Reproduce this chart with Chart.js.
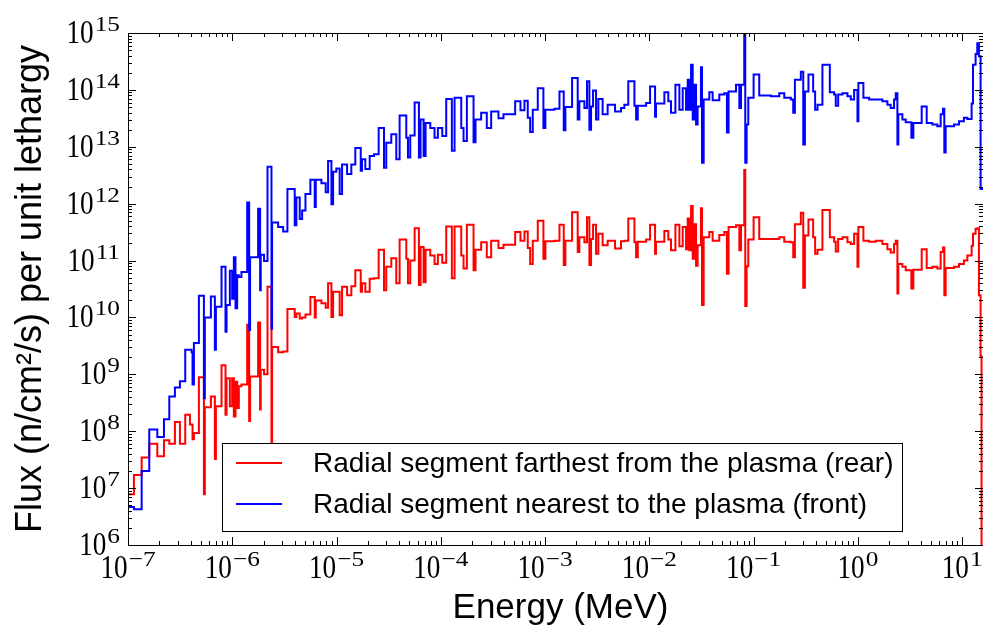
<!DOCTYPE html>
<html>
<head>
<meta charset="utf-8">
<script src="https://cdn.jsdelivr.net/npm/chart.js@4.4.1/dist/chart.umd.min.js"></script>
<style>
  html, body { margin: 0; padding: 0; background: #fff; }
</style>
</head>
<body>
<canvas id="fluxChart" width="983" height="628"></canvas>
<script>
// values, kept as powers of ten
// bin edges: log10(E / MeV); last entry closes the final bin
const energyLog = [
  -7.0, -6.943, -6.869, -6.796, -6.719, -6.655, -6.604, -6.55, -6.502, -6.451,
  -6.406, -6.39, -6.381, -6.368, -6.32, -6.272, -6.263, -6.205, -6.167, -6.157,
  -6.103, -6.065, -6.055, -6.023, -6.001, -5.985, -5.969, -5.953, -5.937, -5.912,
  -5.857, -5.838, -5.829, -5.752, -5.733, -5.727, -5.695, -5.662, -5.624,
  -5.618, -5.56, -5.512, -5.471, -5.401, -5.385, -5.353, -5.33, -5.298, -5.251,
  -5.209, -5.199, -5.145, -5.104, -5.081, -5.049, -5.033, -5.002, -4.97, -4.947,
  -4.899, -4.858, -4.82, -4.768, -4.756, -4.724, -4.682, -4.641, -4.596, -4.545,
  -4.523, -4.475, -4.427, -4.395, -4.331, -4.315, -4.293, -4.251, -4.21, -4.194,
  -4.165, -4.146, -4.101, -4.06, -4.028, -3.986, -3.948,
  -3.894, -3.868, -3.804, -3.782, -3.75, -3.686, -3.667, -3.613, -3.559, -3.517,
  -3.447, -3.399, -3.287, -3.236, -3.198, -3.166, -3.143, -3.118, -3.07, -3.016,
  -2.997, -2.91, -2.862, -2.821, -2.805, -2.741, -2.687, -2.671, -2.623, -2.598,
  -2.575, -2.559, -2.54, -2.511, -2.489, -2.448, -2.4, -2.329, -2.272, -2.24,
  -2.202,
  -2.143, -2.127, -2.111, -2.031, -1.993, -1.945, -1.936, -1.856, -1.818, -1.792,
  -1.75, -1.712, -1.68, -1.648, -1.632, -1.616, -1.6, -1.584, -1.568, -1.552,
  -1.537, -1.505, -1.495, -1.479, -1.425, -1.393, -1.329, -1.281, -1.256, -1.24,
  -1.169, -1.137, -1.121, -1.09, -1.08, -1.067, -1.051, -1.0, -0.946, -0.834,
  -0.754, -0.706, -0.643, -0.62, -0.604, -0.547, -0.524, -0.508,
  -0.474, -0.429, -0.41, -0.387, -0.34, -0.269, -0.228, -0.212, -0.189, -0.148,
  -0.1, -0.068, -0.036, -0.004, 0.005, 0.053, 0.108, 0.171, 0.235, 0.283,
  0.315, 0.347, 0.363, 0.379, 0.388, 0.427, 0.459, 0.513, 0.532, 0.612,
  0.66, 0.714, 0.762, 0.794, 0.816, 0.829, 0.842, 0.922, 0.97, 1.017,
  1.05, 1.091, 1.104, 1.129, 1.145, 1.161, 1.177, 1.186,
  1.21
];

// flux per unit lethargy, log10(n/cm2/s), front segment (blue)
const frontLog = [
  6.67, 6.63, 7.30, 8.03, 7.90, 8.21, 8.61, 8.77, 8.88, 9.43,
  9.43, 9.39, 8.82, 9.55, 10.38, 8.58, 10.0, 10.37, 9.43, 10.19,
  10.89, 9.75, 10.22, 10.82, 10.33, 11.06, 10.16, 10.74, 10.71, 10.80,
  12.02, 9.78, 11.06, 11.91, 10.48, 11.10, 10.99, 12.65, 9.80,
  11.67, 11.59, 11.51, 12.26, 11.62, 12.11, 11.73, 11.88, 12.17, 12.42,
  11.94, 12.42, 12.36, 12.20, 12.75, 11.99, 12.56, 12.62, 12.17, 12.69,
  12.52, 12.69, 12.98, 12.58, 12.78, 12.61, 12.84, 12.87, 13.33, 12.63,
  13.07, 13.22, 12.78, 13.55, 13.16, 12.81, 13.20, 13.78, 12.81, 13.48,
  12.84, 13.42, 13.33, 13.16, 13.33, 13.19, 13.84,
  12.93, 13.86, 13.33, 13.10, 13.89, 13.08, 13.48, 13.60, 13.33, 13.62,
  13.50, 13.57, 13.80, 13.64, 13.81, 13.51, 13.26, 13.65, 14.03, 13.33,
  13.65, 13.67, 13.97, 13.29, 13.70, 14.21, 13.48, 13.80, 13.68, 14.15,
  13.30, 13.71, 13.99, 13.48, 13.84, 13.57, 13.74, 13.62, 13.68, 13.74,
  14.15,
  13.72, 13.48, 13.72, 13.77, 14.06, 13.53, 13.76, 13.96, 13.80, 13.60,
  14.09, 13.65, 14.03, 13.65, 14.18, 13.65, 14.44, 13.48, 14.09, 13.39,
  13.71, 14.40, 12.72, 13.83, 13.96, 13.82, 13.92, 13.94, 13.25, 13.97,
  14.09, 13.68, 14.09, 15.10, 12.72, 13.39, 13.86, 14.27, 13.90, 13.89,
  13.94, 13.86, 13.83, 13.60, 14.18, 14.32, 13.04, 13.97,
  14.27, 13.97, 13.65, 13.74, 14.44, 13.96, 13.92, 13.72, 13.92, 13.94,
  13.89, 13.83, 14.00, 13.45, 14.12, 13.86, 13.83, 13.83, 13.80, 13.74,
  13.68, 13.83, 13.94, 13.04, 13.57, 13.48, 13.43, 13.16, 13.42, 13.71,
  13.42, 13.39, 13.36, 13.57, 13.67, 12.90, 13.36, 13.39, 13.45, 13.51,
  13.49, 13.76, 14.44, 14.63, 14.82, 14.59, 12.26, 12.26
];

// flux per unit lethargy, log10(n/cm2/s), rear segment (red)
const rearLog = [
  6.89, 7.23, 7.54, 7.78, 7.56, 7.84, 7.78, 8.16, 7.78, 8.29,
  8.12, 8.12, 7.86, 7.97, 8.95, 6.89, 8.42, 8.61, 7.51, 8.44,
  9.16, 8.29, 8.93, 8.44, 8.93, 8.26, 8.87, 8.41, 8.79, 8.82,
  9.87, 8.18, 8.96, 9.91, 8.38, 9.08, 9.00, 10.54, 7.00,
  9.48, 9.39, 9.40, 10.15, 10.01, 10.07, 9.98, 10.00, 10.05, 10.36,
  10.00, 10.30, 10.25, 10.17, 10.60, 10.01, 10.45, 10.45, 10.04, 10.54,
  10.39, 10.55, 10.83, 10.45, 10.60, 10.45, 10.68, 10.69, 11.19, 10.48,
  10.89, 11.04, 10.60, 11.37, 11.03, 10.60, 11.00, 11.57, 10.57, 11.24,
  10.62, 11.19, 11.09, 10.94, 11.10, 10.96, 11.60,
  10.69, 11.60, 11.09, 10.86, 11.63, 10.83, 11.19, 11.32, 11.06, 11.35,
  11.22, 11.28, 11.50, 11.35, 11.51, 11.22, 10.94, 11.35, 11.70, 11.03,
  11.34, 11.35, 11.63, 10.92, 11.35, 11.85, 11.15, 11.41, 11.32, 11.76,
  10.92, 11.38, 11.63, 11.12, 11.47, 11.27, 11.35, 11.21, 11.34, 11.35,
  11.74,
  11.32, 11.06, 11.33, 11.37, 11.63, 11.12, 11.33, 11.52, 11.37, 11.18,
  11.63, 11.25, 11.59, 11.20, 11.74, 11.18, 11.96, 11.03, 11.64, 10.91,
  11.27, 11.92, 10.22, 11.41, 11.50, 11.35, 11.45, 11.50, 10.77, 11.59,
  11.62, 11.18, 11.62, 12.59, 10.20, 10.90, 11.37, 11.76, 11.38, 11.38,
  11.41, 11.33, 11.32, 11.06, 11.64, 11.84, 10.52, 11.44,
  11.72, 11.41, 11.12, 11.19, 11.89, 11.41, 11.33, 11.16, 11.38, 11.41,
  11.32, 11.29, 11.47, 10.89, 11.59, 11.35, 11.33, 11.35, 11.29, 11.20,
  11.14, 11.29, 11.35, 10.42, 10.94, 10.89, 10.83, 10.51, 10.84, 11.20,
  10.87, 10.89, 10.86, 11.15, 11.23, 10.39, 10.87, 10.89, 10.94, 11.00,
  11.09, 11.26, 11.47, 11.56, 11.57, 10.39, 9.32, 5.00
];

const xTickExp = [-7, -6, -5, -4, -3, -2, -1, 0, 1];
const yTickExp = [6, 7, 8, 9, 10, 11, 12, 13, 14, 15];
const seriesLabels = [
  'Radial segment farthest from the plasma (rear)',
  'Radial segment nearest to the plasma (front)'
];
const seriesColors = ['#ff0000', '#0000ff'];
const xTitle = 'Energy (MeV)';
const yTitle = 'Flux (n/cm\u00b2/s) per unit lethargy';

// histogram as step points: each bin value holds from its edge to the next one
function stepPoints(logs) {
  const pts = logs.map((v, i) => ({ x: 10 ** energyLog[i], y: 10 ** v }));
  pts.push({ x: 10 ** energyLog[logs.length], y: 10 ** logs[logs.length - 1] });
  return pts;
}

function expText(e) {
  return e < 0 ? '\u2212' + Math.abs(e) : String(e);
}

// "10" with a raised exponent; anchor is center (x axis) or right edge (y axis)
function drawPower(ctx, e, ax, baseY, align) {
  const sx = 0.8, ex = 1.15;
  ctx.font = '34px "Liberation Serif"';
  const wb = ctx.measureText('10').width * sx;
  ctx.font = '22px "Liberation Serif"';
  const sup = expText(e);
  const we = ctx.measureText(sup).width * ex;
  const total = wb + 1 + we;
  const start = align === 'center' ? ax - total / 2 : ax - total;
  ctx.save();
  ctx.translate(start, baseY);
  ctx.scale(sx, 1);
  ctx.font = '34px "Liberation Serif"';
  ctx.fillText('10', 0, 0);
  ctx.restore();
  ctx.save();
  ctx.translate(start + wb + 1, baseY - 12);
  ctx.scale(ex, 1);
  ctx.font = '22px "Liberation Serif"';
  ctx.fillText(sup, 0, 0);
  ctx.restore();
}

const isMajor = (v) => Math.abs(Math.log10(v) - Math.round(Math.log10(v))) < 1e-6;
const isMinor = (v) => {
  const m = v / 10 ** Math.floor(Math.log10(v) + 1e-9);
  return Math.abs(m - Math.round(m)) < 1e-6;
};

const axisFrame = {
  id: 'axisFrame',
  afterDraw(chart) {
    const { ctx, chartArea: a, scales: { x, y } } = chart;
    ctx.save();
    ctx.strokeStyle = '#000';
    ctx.fillStyle = '#000';
    ctx.lineWidth = 1;
    ctx.strokeRect(a.left + 0.5, a.top + 0.5, a.right - a.left, a.bottom - a.top);

    // inward ticks on all sides
    ctx.beginPath();
    x.ticks.forEach((t) => {
      if (!isMinor(t.value)) return;
      const len = isMajor(t.value) ? 8 : 4;
      const px = Math.round(x.getPixelForValue(t.value)) + 0.5;
      ctx.moveTo(px, a.bottom); ctx.lineTo(px, a.bottom - len);
      ctx.moveTo(px, a.top); ctx.lineTo(px, a.top + len);
    });
    y.ticks.forEach((t) => {
      if (!isMinor(t.value)) return;
      const len = isMajor(t.value) ? 8 : 4;
      const py = Math.round(y.getPixelForValue(t.value)) + 0.5;
      ctx.moveTo(a.left, py); ctx.lineTo(a.left + len, py);
      ctx.moveTo(a.right, py); ctx.lineTo(a.right - len, py);
    });
    ctx.stroke();

    // tick labels
    ctx.textAlign = 'left';
    ctx.textBaseline = 'alphabetic';
    xTickExp.forEach((e) => {
      drawPower(ctx, e, x.getPixelForValue(10 ** e), a.bottom + 33, 'center');
    });
    yTickExp.forEach((e) => {
      drawPower(ctx, e, a.left - 8, y.getPixelForValue(10 ** e) + 10, 'right');
    });

    // axis titles
    ctx.font = '35px "Liberation Sans"';
    ctx.textAlign = 'center';
    ctx.fillText(xTitle, (a.left + a.right) / 2 + 5, 618);
    ctx.save();
    ctx.translate(41, (a.top + a.bottom) / 2);
    ctx.rotate(-Math.PI / 2);
    ctx.font = '36px "Liberation Sans"';
    ctx.fillText(yTitle, 0, 0);
    ctx.restore();

    // legend
    const lx = 222, ly = 443, lw = 680, lh = 88;
    ctx.fillStyle = '#fff';
    ctx.fillRect(lx, ly, lw, lh);
    ctx.strokeStyle = '#000';
    ctx.strokeRect(lx + 0.5, ly + 0.5, lw, lh);
    ctx.font = '28px "Liberation Sans"';
    ctx.textAlign = 'left';
    ctx.textBaseline = 'middle';
    [463, 504].forEach((ry, i) => {
      ctx.strokeStyle = seriesColors[i];
      ctx.lineWidth = 2;
      ctx.beginPath();
      ctx.moveTo(236, ry);
      ctx.lineTo(282, ry);
      ctx.stroke();
      ctx.fillStyle = '#000';
      ctx.fillText(seriesLabels[i], 313, ry + 1);
    });
    ctx.restore();
  }
};

new Chart(document.getElementById('fluxChart'), {
  type: 'line',
  data: {
    datasets: [
      {
        label: seriesLabels[0],
        data: stepPoints(rearLog),
        borderColor: seriesColors[0],
        order: 1,
      },
      {
        label: seriesLabels[1],
        data: stepPoints(frontLog),
        borderColor: seriesColors[1],
        order: 0,
      },
    ],
  },
  options: {
    responsive: false,
    animation: false,
    devicePixelRatio: 1,
    layout: { padding: { top: 33, right: 0, bottom: 0, left: 0 } },
    elements: {
      point: { radius: 0 },
      line: { borderWidth: 2, stepped: true, tension: 0, fill: false },
    },
    plugins: {
      legend: { display: false },
      tooltip: { enabled: false },
    },
    scales: {
      x: {
        type: 'logarithmic',
        min: 1e-7,
        max: 10 ** 1.2,
        ticks: { display: false },
        grid: { display: false },
        border: { display: false },
        afterFit: (s) => { s.height = 83; },
      },
      y: {
        type: 'logarithmic',
        min: 1e6,
        max: 1e15,
        ticks: { display: false },
        grid: { display: false },
        border: { display: false },
        afterFit: (s) => { s.width = 128; },
      },
    },
  },
  plugins: [axisFrame],
});
</script>
</body>
</html>
